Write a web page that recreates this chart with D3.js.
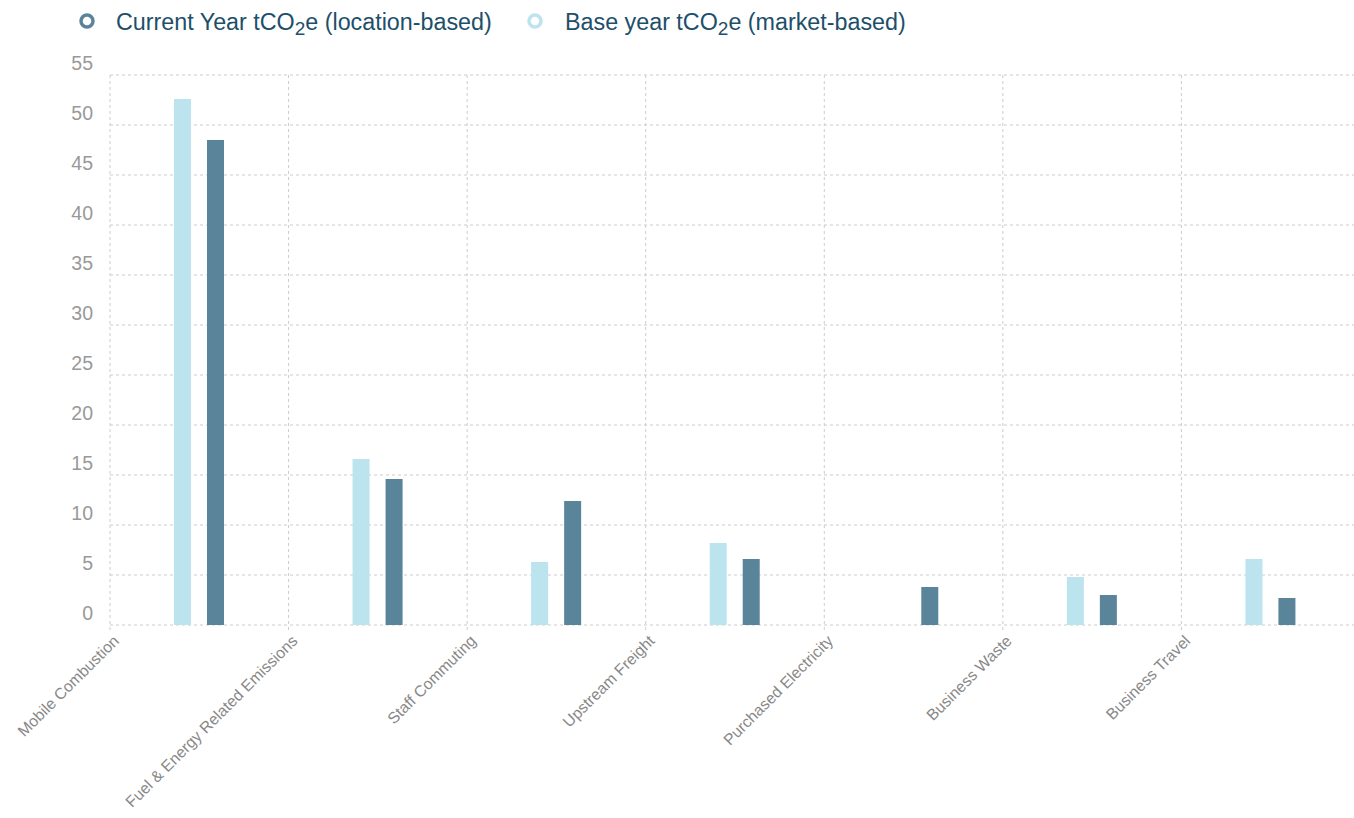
<!DOCTYPE html>
<html>
<head>
<meta charset="utf-8">
<script src="https://cdn.jsdelivr.net/npm/d3@7/dist/d3.min.js"></script>
<style>
  html, body { margin: 0; padding: 0; background: #fff; }
  svg { display: block; font-family: "Liberation Sans", Arial, Helvetica, sans-serif; }
</style>
</head>
<body>
<svg id="chart" width="1354" height="818"></svg>
<script>
const categories = ["Mobile Combustion", "Fuel & Energy Related Emissions", "Staff Commuting", "Upstream Freight", "Purchased Electricity", "Business Waste", "Business Travel"];
const baseYear = [52.6, 16.6, 6.3, 8.2, 0, 4.8, 6.6];
const currentYear = [48.5, 14.6, 12.4, 6.6, 3.8, 3.0, 2.7];
const yTicks = [0, 5, 10, 15, 20, 25, 30, 35, 40, 45, 50, 55];

const colors = { current: "#5a8499", base: "#bce4ef" };

const svg = d3.select("#chart");
const margin = { left: 110, top: 75, right: -6, bottom: 193 };
const W = 1354, H = 818;
const x0 = margin.left, x1 = W - margin.right; // 1360
const y0 = H - margin.bottom, y1 = margin.top;

const x = d3.scaleBand().domain(categories).range([x0, x1]).paddingInner(0).paddingOuter(0);
const y = d3.scaleLinear().domain([0, 55]).range([y0, y1]);

const gridColor = "#cccccc";

// horizontal grid
svg.append("g").selectAll("line").data(yTicks).join("line")
  .attr("x1", x0).attr("x2", x1)
  .attr("y1", d => y(d)).attr("y2", d => y(d))
  .attr("stroke", gridColor).attr("stroke-width", 1).attr("stroke-dasharray", "3,3");

// vertical grid
svg.append("g").selectAll("line").data(categories).join("line")
  .attr("x1", d => x(d)).attr("x2", d => x(d))
  .attr("y1", y1).attr("y2", y0 + 6)
  .attr("stroke", gridColor).attr("stroke-width", 1).attr("stroke-dasharray", "3,3");

// y tick labels
svg.append("g").selectAll("text").data(yTicks).join("text")
  .attr("x", 93).attr("y", d => y(d) - 5)
  .attr("text-anchor", "end")
  .attr("fill", "#999999").attr("font-size", 19.5)
  .text(d => d);

// bars
const inner = d3.scaleBand().domain(["base", "current"]).range([64, 114]).paddingInner(16 / 33).paddingOuter(0);
const g = svg.append("g");
categories.forEach((c, i) => {
  const vals = [{ k: "base", v: baseYear[i] }, { k: "current", v: currentYear[i] }];
  g.selectAll(null).data(vals.filter(d => d.v > 0)).join("rect")
    .attr("x", d => x(c) + inner(d.k))
    .attr("width", inner.bandwidth())
    .attr("y", d => y(d.v))
    .attr("height", d => y0 - y(d.v))
    .attr("fill", d => colors[d.k]);
});

// x labels
svg.append("g").selectAll("text").data(categories).join("text")
  .attr("transform", d => `translate(${x(d) + 6},${y0 + 13}) rotate(-45)`)
  .attr("text-anchor", "end")
  .attr("dy", "0.35em")
  .attr("fill", "#888888").attr("font-size", 15.8)
  .text(d => d);

// legend
const legend = [
  { label: "Current Year tCO", sub: "2", tail: "e (location-based)", color: colors.current, cx: 87, tx: 116 },
  { label: "Base year tCO", sub: "2", tail: "e (market-based)", color: colors.base, cx: 535, tx: 565 }
];
legend.forEach(l => {
  svg.append("circle").attr("cx", l.cx).attr("cy", 21).attr("r", 6)
    .attr("fill", "#fff").attr("stroke", l.color).attr("stroke-width", 3.5);
  const t = svg.append("text").attr("x", l.tx).attr("y", 30)
    .attr("fill", "#1d4f6b").attr("font-size", 23.3);
  t.append("tspan").text(l.label);
  t.append("tspan").attr("dy", 5).attr("font-size", 19).text(l.sub);
  t.append("tspan").attr("dy", -5).text(l.tail);
});
</script>
</body>
</html>
